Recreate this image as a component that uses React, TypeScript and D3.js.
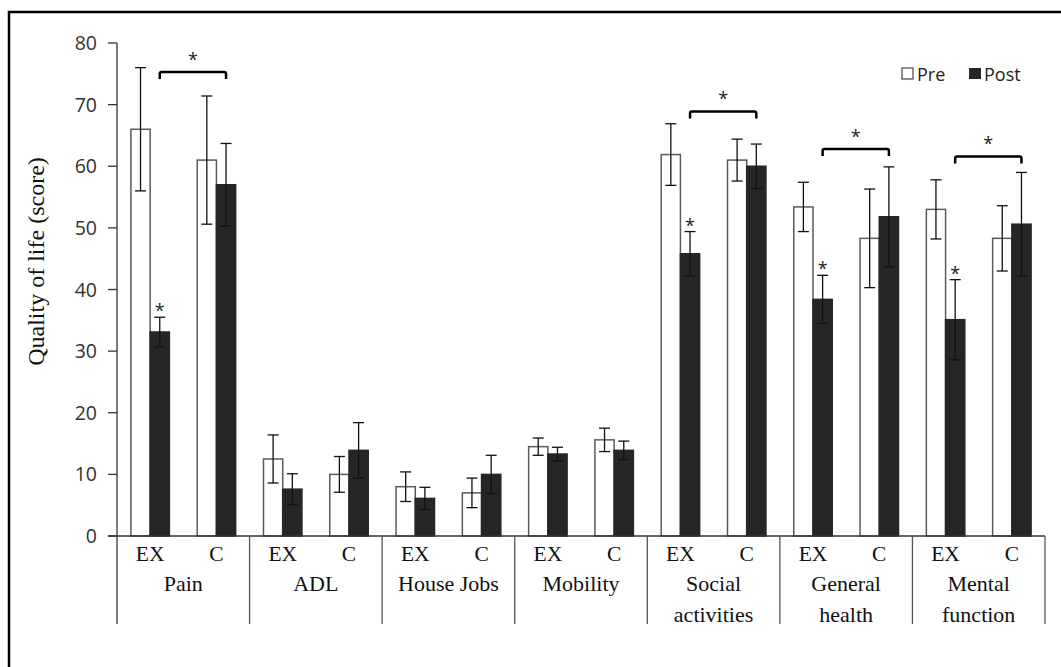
import React from "react";
import * as d3 from "d3";

// categories and groups
const categories = ["Pain", "ADL", "House Jobs", "Mobility", "Social\nactivities", "General\nhealth", "Mental\nfunction"];
const groups = ["EX", "C"];
const yTicks = [0, 10, 20, 30, 40, 50, 60, 70, 80];

// means and error
const exPre = [66.0, 12.5, 8.0, 14.5, 61.9, 53.4, 53.0];
const exPreErr = [10.0, 3.9, 2.4, 1.4, 5.0, 4.0, 4.8];
const exPost = [33.1, 7.6, 6.1, 13.3, 45.8, 38.4, 35.1];
const exPostErr = [2.4, 2.5, 1.8, 1.1, 3.6, 3.9, 6.5];
const cPre = [61.0, 10.0, 7.0, 15.6, 61.0, 48.3, 48.3];
const cPreErr = [10.4, 2.9, 2.4, 1.9, 3.4, 8.0, 5.3];
const cPost = [57.0, 13.9, 10.0, 13.9, 60.0, 51.8, 50.6];
const cPostErr = [6.7, 4.5, 3.1, 1.5, 3.6, 8.1, 8.4];

// significance marks
const postStar = [true, false, false, false, true, true, true];
const bracketLevel = [75.3, null, null, null, 68.9, 62.8, 61.6];

const W = 1061;
const H = 667;
const margin = { left: 117, right: 1045, top: 43, zero: 536, bottom: 624 };

const serif = "'Liberation Serif', 'Times New Roman', serif";
const sans = "'Open Sans', 'Noto Sans', sans-serif";

export default function App() {
  const y = d3.scaleLinear().domain([0, 80]).range([margin.zero, margin.top]);
  const x0 = d3.scaleBand().domain(categories).range([margin.left, margin.right]).padding(0);
  const x1 = d3.scaleBand().domain(groups).range([0, x0.bandwidth()]).padding(0);
  const barW = x1.bandwidth() * 0.29;

  const bars: any[] = [];
  categories.forEach((cat, i) => {
    const gx = x0(cat)!;
    groups.forEach((g) => {
      const center = gx + x1(g)! + x1.bandwidth() / 2;
      const pre = g === "EX" ? exPre[i] : cPre[i];
      const preE = g === "EX" ? exPreErr[i] : cPreErr[i];
      const post = g === "EX" ? exPost[i] : cPost[i];
      const postE = g === "EX" ? exPostErr[i] : cPostErr[i];
      bars.push({ key: cat + g + "pre", x: center - barW, v: pre, e: preE, post: false, cat: i, g });
      bars.push({ key: cat + g + "post", x: center, v: post, e: postE, post: true, cat: i, g });
    });
  });

  const cap = 11;
  const postCenter = (i: number, g: string) => x0(categories[i])! + x1(g)! + x1.bandwidth() / 2 + barW / 2;

  return (
    <svg width={W} height={H} style={{ position: "absolute", left: 0, top: 0, background: "#fff" }}>
      <rect x={9} y={12} width={1200} height={800} fill="none" stroke="#000" strokeWidth={2.5} />

      {/* y axis */}
      <line x1={margin.left} x2={margin.left} y1={margin.top} y2={margin.bottom} stroke="#333" strokeWidth={1.3} />
      {yTicks.map((t) => (
        <g key={t}>
          <line x1={margin.left - 9} x2={margin.left} y1={y(t)} y2={y(t)} stroke="#333" strokeWidth={1.3} />
          <text x={97} y={y(t)} dy="0.36em" textAnchor="end" fontFamily={sans} fontSize={19.5} fill="#333">{t}</text>
        </g>
      ))}
      <text transform={`translate(44,${(153 + 370) / 2}) rotate(-90)`} textAnchor="middle" fontFamily={serif} fontSize={24} fill="#111">Quality of life (score)</text>

      {/* bars */}
      {bars.map((b) => (
        <g key={b.key}>
          <rect x={b.x} y={y(b.v)} width={barW} height={y(0) - y(b.v)}
            fill={b.post ? "#262626" : "#fff"} stroke={b.post ? "#262626" : "#5a5a5a"} strokeWidth={1.5} />
          <g stroke="#111" strokeWidth={1.3}>
            <line x1={b.x + barW / 2} x2={b.x + barW / 2} y1={y(b.v + b.e)} y2={y(b.v - b.e)} />
            <line x1={b.x + barW / 2 - cap / 2} x2={b.x + barW / 2 + cap / 2} y1={y(b.v + b.e)} y2={y(b.v + b.e)} />
            <line x1={b.x + barW / 2 - cap / 2} x2={b.x + barW / 2 + cap / 2} y1={y(b.v - b.e)} y2={y(b.v - b.e)} />
          </g>
          {b.post && b.g === "EX" && postStar[b.cat] && (
            <text x={b.x + barW / 2} y={y(b.v + b.e) - 10 + 10} textAnchor="middle" fontFamily={sans} fontSize={18} fill="#222">*</text>
          )}
        </g>
      ))}

      {/* brackets */}
      {bracketLevel.map((lv, i) => {
        if (lv == null) return null;
        const xa = postCenter(i, "EX");
        const xb = postCenter(i, "C");
        const yy = y(lv);
        return (
          <g key={"br" + i}>
            <path d={`M${xa},${yy + 7} L${xa},${yy + 2} Q${xa},${yy} ${xa + 2},${yy} L${xb - 2},${yy} Q${xb},${yy} ${xb},${yy + 2} L${xb},${yy + 7}`}
              fill="none" stroke="#000" strokeWidth={2.5} />
            <text x={(xa + xb) / 2} y={yy - 16 + 10} textAnchor="middle" fontFamily={sans} fontSize={18} fill="#222">*</text>
          </g>
        );
      })}

      {/* x axis */}
      <line x1={margin.left - 9} x2={margin.right} y1={y(0)} y2={y(0)} stroke="#333" strokeWidth={1.3} />
      {categories.map((cat) => (
        <g key={cat}>
          <line x1={x0(cat)! + x0.bandwidth()} x2={x0(cat)! + x0.bandwidth()} y1={y(0)} y2={margin.bottom} stroke="#555" strokeWidth={1.3} />
          {groups.map((g) => (
            <text key={g} x={x0(cat)! + x1(g)! + x1.bandwidth() / 2} y={561} textAnchor="middle" fontFamily={serif} fontSize={21.5} fill="#111">{g}</text>
          ))}
          {cat.split("\n").map((ln, k) => (
            <text key={k} x={x0(cat)! + x0.bandwidth() / 2} y={591 + k * 31} textAnchor="middle" fontFamily={serif} fontSize={22} fill="#111">{ln}</text>
          ))}
        </g>
      ))}

      {/* legend */}
      <rect x={902} y={68} width={11} height={11} fill="#fff" stroke="#444" strokeWidth={1.2} />
      <text x={917} y={80.5} fontFamily={sans} fontSize={18} fill="#222">Pre</text>
      <rect x={969} y={68} width={12} height={11} fill="#262626" />
      <text x={984} y={80.5} fontFamily={sans} fontSize={18} fill="#222">Post</text>
    </svg>
  );
}
